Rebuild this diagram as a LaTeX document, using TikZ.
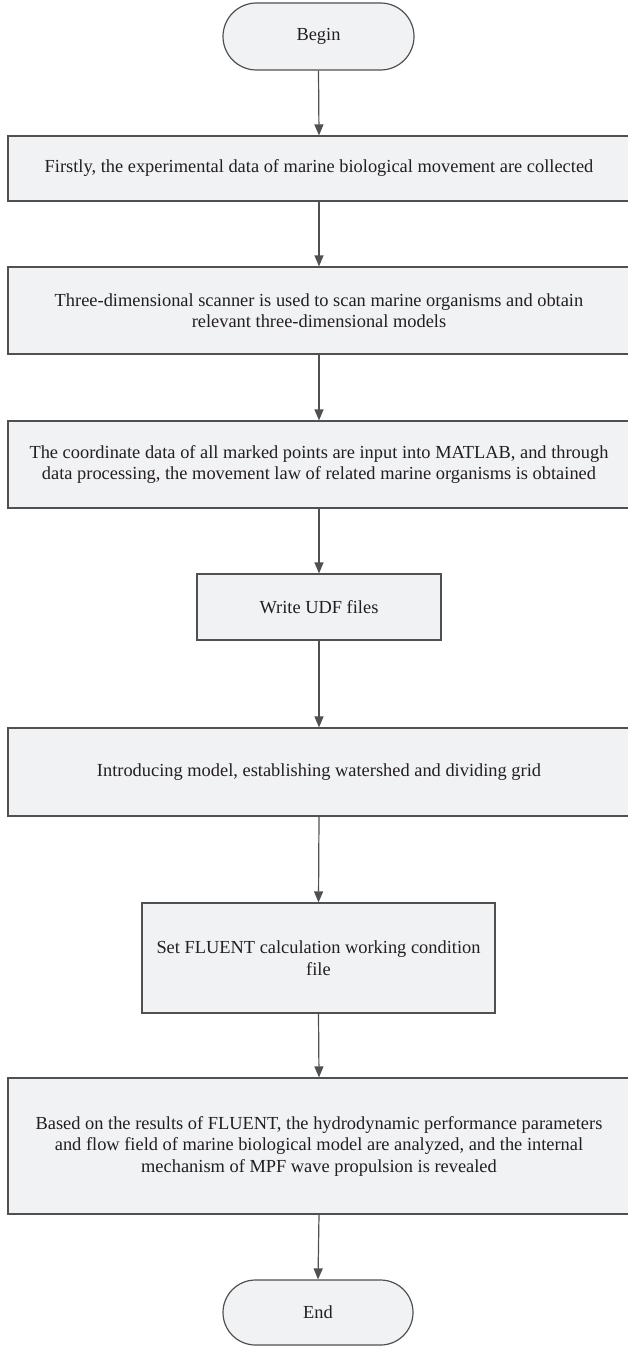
\documentclass[tikz,border=0pt]{standalone}
\usepackage{fontspec}
\setmainfont{Liberation Serif}
\usetikzlibrary{arrows.meta,shapes.misc}
\definecolor{boxfill}{HTML}{F1F2F4}
\definecolor{lineclr}{HTML}{505050}
\definecolor{txt}{HTML}{231F20}
\tikzset{
  stepbox/.style={draw=lineclr, fill=boxfill, line width=1.2pt, align=center, text=txt,
    font=\fontsize{18.4}{21.5}\selectfont, inner sep=0pt, rectangle},
  termbox/.style={stepbox, rounded rectangle},
  flow/.style={-{Triangle[length=11pt,width=9pt]}, draw=lineclr, line width=1.2pt}
}
\begin{document}
\begin{tikzpicture}[x=1pt,y=-1pt]
\useasboundingbox (0,0) rectangle (627,1346);
\node[termbox, minimum width=191pt, minimum height=67pt] (begin) at (318.5,36.5) {Begin};
\node[stepbox, minimum width=622pt, minimum height=65pt] (s1) at (319,168.5)
  {Firstly, the experimental data of marine biological movement are collected};
\node[stepbox, minimum width=622pt, minimum height=87pt] (s2) at (319,310.5)
  {Three-dimensional scanner is used to scan marine organisms and obtain\\relevant three-dimensional models};
\node[stepbox, minimum width=622pt, minimum height=87pt] (s3) at (319,464.5)
  {The coordinate data of all marked points are input into MATLAB, and through\\data processing, the movement law of related marine organisms is obtained};
\node[stepbox, minimum width=244pt, minimum height=66pt] (s4) at (319,607)
  {Write UDF files};
\node[stepbox, minimum width=622pt, minimum height=88pt] (s5) at (319,772)
  {Introducing model, establishing watershed and dividing grid};
\node[stepbox, minimum width=353pt, minimum height=110pt] (s6) at (318.5,958)
  {Set FLUENT calculation working condition\\file};
\node[stepbox, minimum width=622pt, minimum height=136pt] (s7) at (319,1146)
  {Based on the results of FLUENT, the hydrodynamic performance parameters\\and flow field of marine biological model are analyzed, and the internal\\mechanism of MPF wave propulsion is revealed};
\node[termbox, minimum width=190pt, minimum height=65pt] (end) at (318,1312.5) {End};
\draw[flow] (begin.south) -- (s1.north);
\draw[flow] (s1.south) -- (s2.north);
\draw[flow] (s2.south) -- (s3.north);
\draw[flow] (s3.south) -- (s4.north);
\draw[flow] (s4.south) -- (s5.north);
\draw[flow] (s5.south) -- (s6.north);
\draw[flow] (s6.south) -- (s7.north);
\draw[flow] (s7.south) -- (end.north);
\end{tikzpicture}
\end{document}
